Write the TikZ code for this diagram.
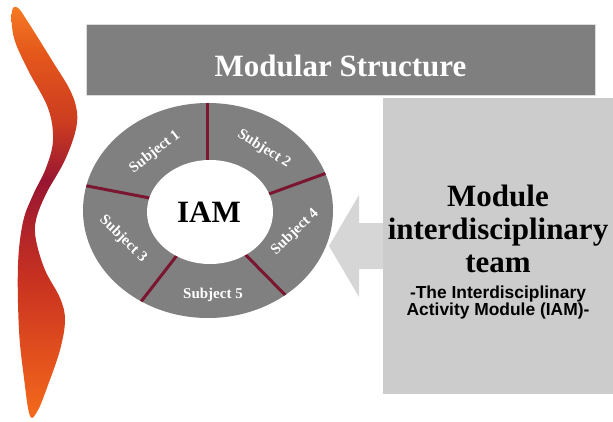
\documentclass[tikz,border=0pt]{standalone}
\usepackage{fontspec}
\setmainfont{Liberation Serif}
\newfontfamily\arialfont{Liberation Sans}
\definecolor{titlegray}{HTML}{7F7F7F}
\definecolor{ringgray}{HTML}{808080}
\definecolor{teamgray}{HTML}{CCCCCC}
\definecolor{arrowgray}{HTML}{D6D6D6}
\definecolor{edgegray}{HTML}{DDDDDD}
\definecolor{divred}{HTML}{7B1631}
\definecolor{swA}{HTML}{F56C1C}
\definecolor{swB}{HTML}{E4531D}
\definecolor{swC}{HTML}{C83220}
\definecolor{swD}{HTML}{991632}
\definecolor{swE}{HTML}{CC3C20}
\definecolor{swF}{HTML}{E4561C}
\definecolor{swG}{HTML}{F57A22}
\pgfdeclareverticalshading{swooshshade}{100bp}{color(0bp)=(swA); color(25bp)=(swA); color(32bp)=(swB); color(42bp)=(swC); color(54bp)=(swD); color(61bp)=(swE); color(69bp)=(swF); color(75bp)=(swG); color(100bp)=(swG)}
\tikzset{
  titlebox/.style={rectangle, fill=titlegray, draw=edgegray, line width=1pt, inner sep=0pt},
  teambox/.style={rectangle, fill=teamgray, inner sep=0pt},
  titletext/.style={text=white, font=\fontsize{31}{33}\selectfont\bfseries, inner sep=0pt},
  bigtext/.style={text=black, font=\fontsize{31}{33}\selectfont\bfseries, inner sep=0pt},
  subtext/.style={text=black, font=\arialfont\fontsize{17.4}{17.4}\selectfont\bfseries, inner sep=0pt},
  subjlbl/.style={text=white, font=\fontsize{15}{15}\selectfont\bfseries, inner sep=0pt},
  divider/.style={draw=divred, line width=3pt},
}
\begin{document}
\begin{tikzpicture}[x=1pt,y=-1pt]
\useasboundingbox (0,0) rectangle (613,421);
% swoosh
\path[shading=swooshshade] plot[smooth cycle, tension=0.6] coordinates {
 (12,11) (14,38) (28,70) (48,108) (53,140) (46,168) (33,195) (23,222) (18,265)
 (19,330) (24,378) (30,416) (38,410) (48,385) (60,350) (65,320) (60,298) (45,270)
 (36,240) (36,220) (46,194) (64,162) (75,133) (77,112) (70,90) (53,62) (28,22) (18,8)};
% title bar
\node[titlebox, minimum width=509pt, minimum height=71pt] (titlebar) at (340.5,59.5) {};
\node[titletext, anchor=base] (titlelbl) at (340.5,76) {Modular Structure};
% ring
\fill[ringgray] (208,210.5) ellipse [x radius=125pt, y radius=107.5pt];
\begin{scope}
  \clip (208,210.5) ellipse [x radius=125pt, y radius=107.5pt];
  \draw[divider] (207,95) -- (207,170);
  \draw[divider] (255,199) -- (335,170);
  \draw[divider] (77,184) -- (160,200);
  \draw[divider] (185,245) -- (133,312);
  \draw[divider] (235,244) -- (295,305);
\end{scope}
\fill[white] (210,212) ellipse [x radius=63pt, y radius=52pt];
\node[bigtext, anchor=base] (iam) at (209,222) {IAM};
\node[subjlbl, rotate=38] (s1) at (155,152) {Subject 1};
\node[subjlbl, rotate=-32] (s2) at (264,149) {Subject 2};
\node[subjlbl, rotate=-44] (s3) at (123,239) {Subject 3};
\node[subjlbl, rotate=44] (s4) at (295,232) {Subject 4};
\node[subjlbl] (s5) at (213,295) {Subject 5};
% block arrow
\fill[arrowgray] (329,246) -- (359,195) -- (359,223) -- (384,223) -- (384,269) -- (359,269) -- (359,297) -- cycle;
% team box
\node[teambox, minimum width=230pt, minimum height=296pt] (teambar) at (498,246) {};
\node[bigtext, anchor=base] (t1) at (498,206) {Module};
\node[bigtext, anchor=base] (t2) at (498,239) {interdisciplinary};
\node[bigtext, anchor=base] (t3) at (498,272) {team};
\node[subtext, anchor=base] (t4) at (498,298) {-The Interdisciplinary};
\node[subtext, anchor=base] (t5) at (498,315) {Activity Module (IAM)-};
\end{tikzpicture}
\end{document}
